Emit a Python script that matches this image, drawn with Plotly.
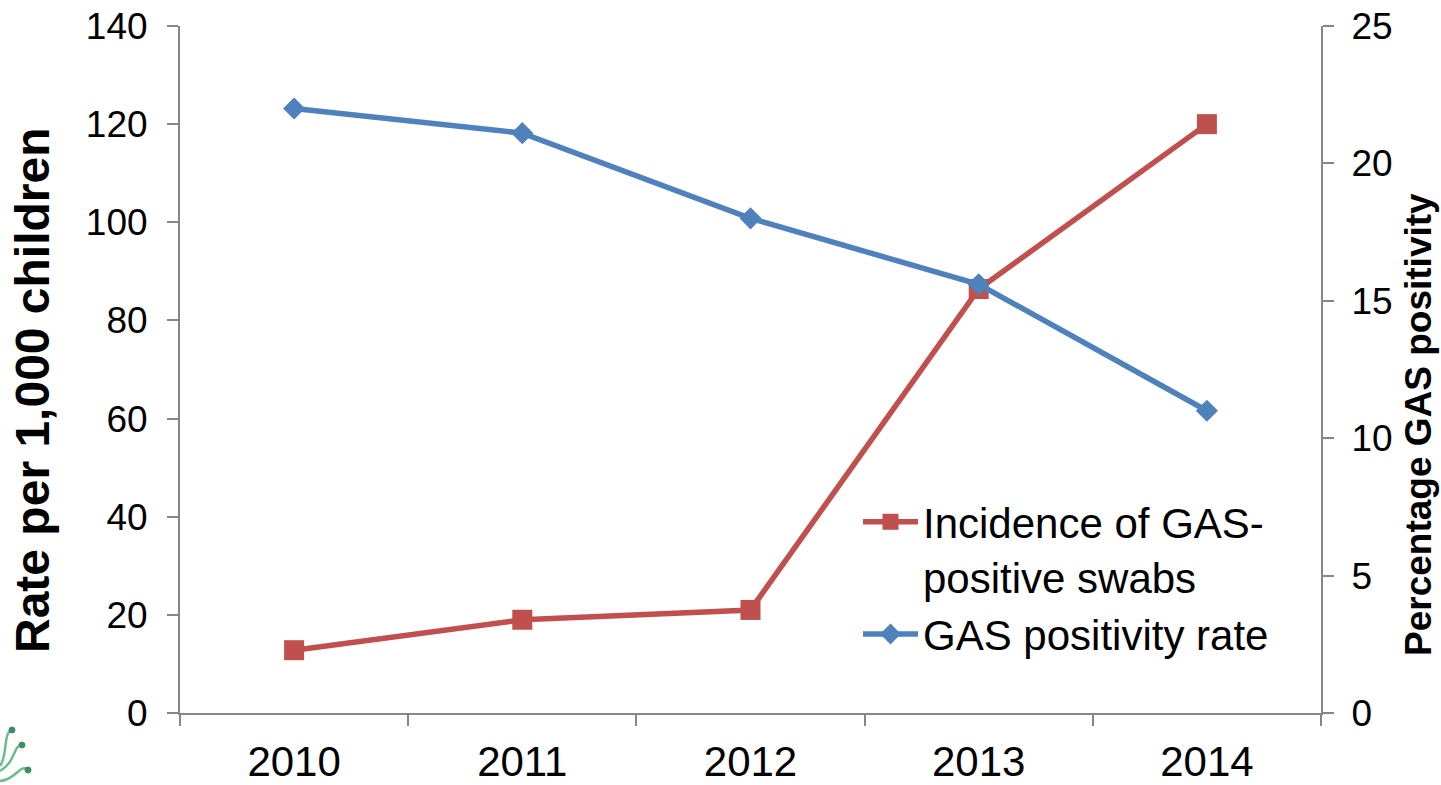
import plotly.graph_objects as go

years = ["2010", "2011", "2012", "2013", "2014"]
incidence = [12.8, 19, 21, 86.4, 120]
positivity = [22, 21.1, 18, 15.6, 11]
left_ticks = [0, 20, 40, 60, 80, 100, 120, 140]
right_ticks = [0, 5, 10, 15, 20, 25]

W, H = 1441, 785
L, R, T, B = 180, 1321, 26, 713
FONT = "Liberation Sans, Arial, sans-serif"
AXC = "#868686"


def px(x):
    return (x - L) / (R - L)


def py(y):
    return (B - y) / (B - T)


fig = go.Figure()
fig.add_trace(go.Scatter(x=years, y=incidence, name="Incidence of GAS-<br>positive swabs",
                         mode="lines+markers", line=dict(color="#C0504D", width=5.5),
                         marker=dict(symbol="square", size=20, color="#C0504D")))
fig.add_trace(go.Scatter(x=years, y=positivity, name="GAS positivity rate", yaxis="y2",
                         mode="lines+markers", line=dict(color="#4F81BD", width=5.5),
                         marker=dict(symbol="diamond", size=17, color="#4F81BD")))

common = dict(showgrid=False, zeroline=False, showline=True, linecolor=AXC, linewidth=2,
              ticks="outside", tickcolor=AXC, tickwidth=2, ticklen=11, automargin=False)
y_font = dict(family=FONT, size=37, color="#000")

# small decorative logo curls in the lower-left corner
logo_curves = [
    ((12, 730), (3, 732), (8, 755), (0, 766)),
    ((22, 745), (13, 745), (16, 762), (0, 771)),
    ((28, 770), (20, 763), (16, 780), (0, 781)),
]
shapes = []
for p0, c1, c2, p1 in logo_curves:
    path = "M {} {} C {} {} {} {} {} {}".format(px(p0[0]), py(p0[1]), px(c1[0]), py(c1[1]),
                                               px(c2[0]), py(c2[1]), px(p1[0]), py(p1[1]))
    shapes.append(dict(type="path", xref="paper", yref="paper", path=path,
                       line=dict(color="#6DBB8E", width=2.5), layer="above"))
    shapes.append(dict(type="circle", xref="paper", yref="paper",
                       x0=px(p0[0] - 3), x1=px(p0[0] + 3), y0=py(p0[1] + 3), y1=py(p0[1] - 3),
                       fillcolor="#3C8F63", line=dict(color="#3C8F63", width=1), layer="above"))

fig.update_layout(
    width=W, height=H, autosize=False,
    margin=dict(l=L, r=W - R, t=T, b=H - B, pad=0),
    paper_bgcolor="white", plot_bgcolor="white",
    font=dict(family=FONT, color="#000"),
    xaxis=dict(type="category", tickson="boundaries", range=[-0.5, 4.5], ticklabelstandoff=11,
               tickfont=dict(family=FONT, size=42, color="#000"), **common),
    yaxis=dict(range=[0, 140], tickvals=left_ticks, ticklabelstandoff=12, tickfont=y_font, **common),
    yaxis2=dict(range=[0, 25], tickvals=right_ticks, overlaying="y", side="right",
                anchor="x", ticklabelstandoff=10, tickfont=y_font, **common),
    legend=dict(x=px(858), y=py(488), xanchor="left", yanchor="top", valign="top",
                bgcolor="rgba(0,0,0,0)", borderwidth=0, itemwidth=55, tracegroupgap=0,
                font=dict(family=FONT, size=42, color="#000")),
    annotations=[
        dict(text="<b>Rate per 1,000 children</b>", textangle=-90, xref="paper", yref="paper",
             x=px(32), y=py(390), showarrow=False,
             xanchor="center", yanchor="middle", font=dict(family=FONT, size=48, color="#000")),
        dict(text="<b>Percentage GAS positivity</b>", textangle=-90, xref="paper", yref="paper",
             x=px(1418), y=py(425), showarrow=False,
             xanchor="center", yanchor="middle", font=dict(family=FONT, size=37, color="#000")),
    ],
    shapes=shapes,
)
fig.write_html("out.html", config=dict(displayModeBar=False),
               post_script="document.body.style.margin='0';")
